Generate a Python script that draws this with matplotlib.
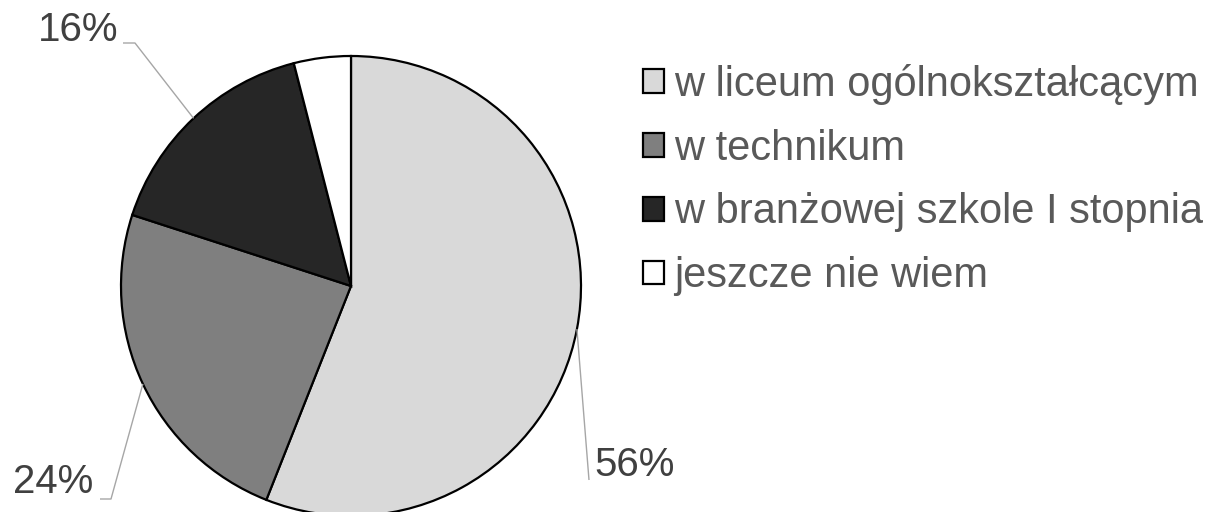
import numpy as np
import matplotlib
matplotlib.use("Agg")
import matplotlib.pyplot as plt

plt.rcParams['font.family'] = ['Liberation Sans', 'DejaVu Sans']

categories = ["w liceum ogólnokształcącym", "w technikum",
              "w branżowej szkole I stopnia", "jeszcze nie wiem"]
values = [56, 24, 16, 4]
pct_labels = ["56%", "24%", "16%", ""]
colors = ["#D9D9D9", "#7F7F7F", "#262626", "#FFFFFF"]

W, H = 1224, 512
fig = plt.figure(figsize=(W / 100, H / 100), dpi=100)
ax = fig.add_axes([0, 0, 1, 1])
ax.set_xlim(0, W)
ax.set_ylim(0, H)
ax.set_aspect('equal')
ax.axis('off')

cx, cy, R = 351, H - 286, 230
wedges, _ = ax.pie(values, colors=colors, startangle=90, counterclock=False,
                   center=(cx, cy), radius=R, frame=True,
                   wedgeprops=dict(edgecolor='black', linewidth=1.6))
ax.set_xlim(0, W)
ax.set_ylim(0, H)
ax.axis('off')

# label text positions (pixels, top-left origin) and leader elbows
label_pos = {0: (594, 465, 'left'), 1: (93, 482, 'right'), 2: (118, 30, 'right')}
elbow = {0: [(589, 480)], 1: [(111, 499), (100, 499)], 2: [(135, 43), (123, 43)]}
for i, w in enumerate(wedges):
    if not pct_labels[i]:
        continue
    mid = np.deg2rad((w.theta1 + w.theta2) / 2)
    px, py = cx + R * np.cos(mid), cy + R * np.sin(mid)
    pts = [(px, py)] + [(x, H - y) for x, y in elbow[i]]
    xs, ys = zip(*pts)
    ax.plot(xs, ys, color='#A6A6A6', linewidth=1.0, solid_capstyle='butt')
    tx, ty, ha = label_pos[i]
    ax.text(tx, H - ty, pct_labels[i], ha=ha, va='center', fontsize=29,
            color='#404040')

leg = ax.legend(wedges, categories, loc='upper left',
                bbox_to_anchor=(643 / W, 1 - 64 / H), frameon=False,
                fontsize=30, handlelength=0.5, handleheight=0.5,
                handletextpad=0.25, labelspacing=0.57, borderaxespad=0,
                borderpad=0)
for t in leg.get_texts():
    t.set_color('#595959')

fig.savefig('out.png', dpi=100)
